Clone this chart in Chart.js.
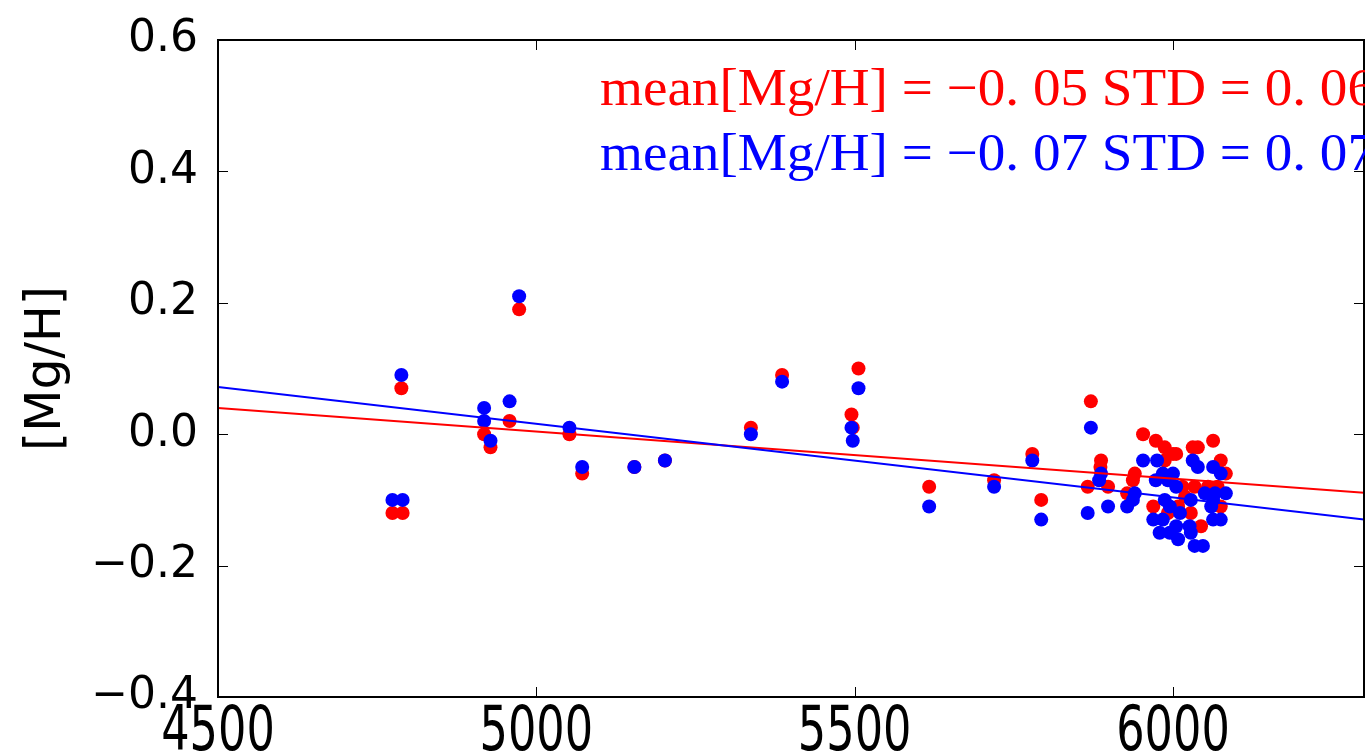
<!DOCTYPE html>
<html>
<head>
<meta charset="utf-8">
<script src="https://cdn.jsdelivr.net/npm/chart.js@4"></script>
<style>
  body { margin: 0; background: #fff; }
</style>
</head>
<body>
<canvas id="mgChart" width="1372" height="751"></canvas>
<script>
var xTicks = [4500, 5000, 5500, 6000];
var yTicks = [-0.4, -0.2, 0.0, 0.2, 0.4, 0.6];

// red sample
var teffRed = [4774, 4790, 4788, 4973, 4918, 4928, 4958, 5052, 5072, 5154, 5202,
    5337, 5386, 5506, 5495, 5497,
    5617, 5719, 5779, 5793, 5871, 5866, 5887, 5886, 5898,
    5953, 5940, 5937, 5928,
    5973, 5987, 6000, 6005, 6031, 6039, 6063, 6075, 6083, 5987,
    6015, 6034, 6055, 6070, 5969, 6008, 6028, 6075, 6044, 5992, 6019];
var mghRed = [-0.12, -0.12, 0.07, 0.19, 0.00, -0.02, 0.02, 0.00, -0.06, -0.05, -0.04,
    0.01, 0.09, 0.10, 0.03, 0.01,
    -0.08, -0.07, -0.03, -0.10, 0.05, -0.08, -0.04, -0.05, -0.08,
    0.00, -0.06, -0.07, -0.09,
    -0.01, -0.02, -0.03, -0.03, -0.02, -0.02, -0.01, -0.04, -0.06, -0.04,
    -0.08, -0.08, -0.08, -0.08, -0.11, -0.11, -0.12, -0.11, -0.14, -0.12, -0.095];

// blue sample
var teffBlue = [4774, 4790, 4788, 4973, 4918, 4918, 4928, 4958, 5052, 5072, 5154, 5202,
    5337, 5386, 5506, 5495, 5497,
    5617, 5719, 5779, 5793, 5871, 5866, 5887, 5884, 5898,
    5953, 5940, 5937, 5928,
    5975, 6031, 6039, 6063, 6075, 5984, 6000, 5973, 5992, 6005,
    6050, 6066, 6083, 5987, 5995, 6028, 6011, 6063, 6060, 6063, 6075,
    5969, 5984, 5979, 5995, 6005, 6008, 6026, 6028, 6034, 6047];
var mghBlue = [-0.10, -0.10, 0.09, 0.21, 0.04, 0.02, -0.01, 0.05, 0.01, -0.05, -0.05, -0.04,
    0.00, 0.08, 0.07, 0.01, -0.01,
    -0.11, -0.08, -0.04, -0.13, 0.01, -0.12, -0.06, -0.07, -0.11,
    -0.04, -0.09, -0.10, -0.11,
    -0.04, -0.04, -0.05, -0.05, -0.06, -0.06, -0.06, -0.07, -0.07, -0.08,
    -0.09, -0.09, -0.09, -0.10, -0.11, -0.10, -0.12, -0.10, -0.11, -0.13, -0.13,
    -0.13, -0.13, -0.15, -0.15, -0.14, -0.16, -0.14, -0.15, -0.17, -0.17];

// linear fits
var fitX = [4500, 6300];
var fitRed = [0.040, -0.089];
var fitBlue = [0.072, -0.130];

var textRed = "mean[Mg/H] = \u22120. 05 STD = 0. 06";
var textBlue = "mean[Mg/H] = \u22120. 07 STD = 0. 07";

function toPoints(xs, ys) {
    return xs.map(function (x, i) {
        return { x: x, y: ys[i] };
    });
}

function fmtTick(v) {
    var s = Math.abs(v).toFixed(1);
    return v < -1e-9 ? "\u2212" + s : s;
}

var framePlugin = {
    id: "frame",
    afterDraw: function (chart) {
        var ctx = chart.ctx;
        var a = chart.chartArea;
        var xs = chart.scales.x;
        var ys = chart.scales.y;

        ctx.save();
        ctx.strokeStyle = "#000";
        ctx.lineWidth = 1;
        ctx.beginPath();
        xTicks.forEach(function (v) {
            var px = Math.round(xs.getPixelForValue(v)) + 0.5;
            ctx.moveTo(px, a.bottom); ctx.lineTo(px, a.bottom - 10);
            ctx.moveTo(px, a.top); ctx.lineTo(px, a.top + 10);
        });
        yTicks.forEach(function (v) {
            var py = Math.round(ys.getPixelForValue(v)) + 0.5;
            ctx.moveTo(a.left, py); ctx.lineTo(a.left + 10, py);
            ctx.moveTo(a.right, py); ctx.lineTo(a.right - 10, py);
        });
        ctx.stroke();

        ctx.lineWidth = 2;
        ctx.strokeRect(a.left, a.top, a.right - a.left, a.bottom - a.top);

        // x tick labels, narrow like the original
        ctx.fillStyle = "#000";
        ctx.font = '62px "DejaVu Sans"';
        ctx.textAlign = "center";
        ctx.textBaseline = "alphabetic";
        xTicks.forEach(function (v) {
            ctx.save();
            ctx.translate(xs.getPixelForValue(v), 750);
            ctx.scale(0.72, 1);
            ctx.fillText(String(v), 0, 0);
            ctx.restore();
        });

        // mean / STD notes
        ctx.beginPath();
        ctx.rect(0, 0, a.right + 1, chart.height);
        ctx.clip();
        ctx.font = '52px "Liberation Serif"';
        ctx.textAlign = "left";
        [[textRed, "#ff0000", 105], [textBlue, "#0000ff", 170]].forEach(function (t) {
            var w = ctx.measureText(t[0]).width;
            ctx.save();
            ctx.translate(600, t[2]);
            ctx.scale(775 / w, 1);
            ctx.fillStyle = t[1];
            ctx.fillText(t[0], 0, 0);
            ctx.restore();
        });
        ctx.restore();
    }
};

new Chart(document.getElementById("mgChart").getContext("2d"), {
    type: "scatter",
    data: {
        datasets: [
            {
                label: "fit blue",
                data: toPoints(fitX, fitBlue),
                showLine: true,
                borderColor: "#0000ff",
                borderWidth: 2,
                pointRadius: 0,
                order: 0
            },
            {
                label: "fit red",
                data: toPoints(fitX, fitRed),
                showLine: true,
                borderColor: "#ff0000",
                borderWidth: 2,
                pointRadius: 0,
                order: 1
            },
            {
                label: "blue",
                data: toPoints(teffBlue, mghBlue),
                backgroundColor: "#0000ff",
                borderWidth: 0,
                pointRadius: 7,
                order: 2
            },
            {
                label: "red",
                data: toPoints(teffRed, mghRed),
                backgroundColor: "#ff0000",
                borderWidth: 0,
                pointRadius: 7,
                order: 3
            }
        ]
    },
    options: {
        responsive: false,
        animation: false,
        layout: { padding: { top: 40, right: 8, left: 0, bottom: 0 } },
        plugins: {
            legend: { display: false },
            tooltip: { enabled: false }
        },
        scales: {
            x: {
                type: "linear",
                min: 4500,
                max: 6300,
                grid: { display: false },
                border: { display: false },
                ticks: { display: false },
                afterBuildTicks: function (scale) {
                    scale.ticks = xTicks.map(function (v) { return { value: v }; });
                },
                afterFit: function (scale) { scale.height = 54; }
            },
            y: {
                type: "linear",
                min: -0.4,
                max: 0.6,
                grid: { display: false },
                border: { display: false },
                afterBuildTicks: function (scale) {
                    scale.ticks = yTicks.map(function (v) { return { value: v }; });
                },
                afterFit: function (scale) { scale.width = 218; },
                ticks: {
                    color: "#000",
                    padding: 12,
                    font: { family: "DejaVu Sans", size: 44 },
                    callback: function (v) { return fmtTick(v); }
                },
                title: {
                    display: true,
                    text: "[Mg/H]",
                    color: "#000",
                    font: { family: "DejaVu Sans", size: 49 },
                    padding: { top: 18, bottom: 0 }
                }
            }
        }
    },
    plugins: [framePlugin]
});
</script>
</body>
</html>
